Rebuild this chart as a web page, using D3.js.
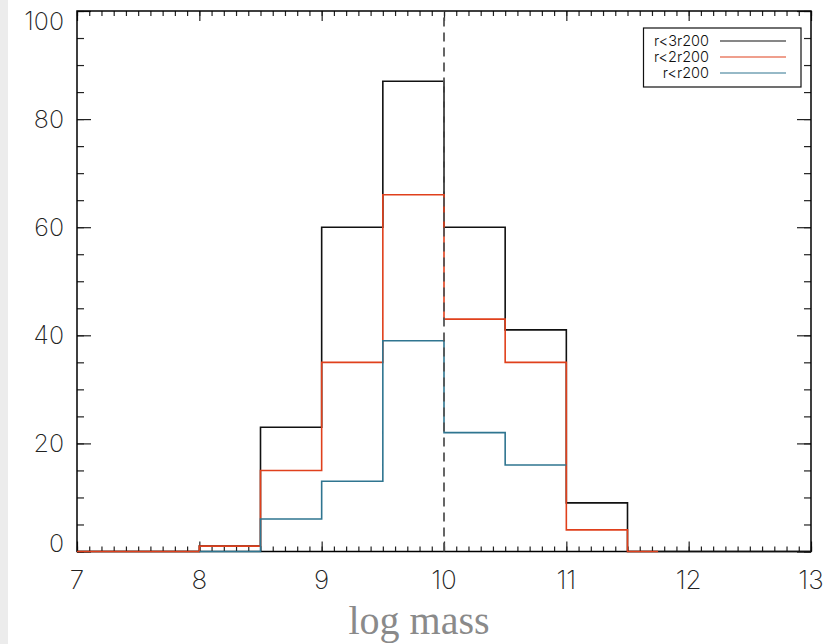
<!DOCTYPE html>
<html><head><meta charset="utf-8">
<script src="https://cdn.jsdelivr.net/npm/d3@7"></script>
<style>
html,body{margin:0;padding:0;background:#fff;}
svg{display:block;}
.tl{font-family:Inter,"DejaVu Sans",sans-serif;font-weight:200;fill:#222;}
.lt{font-family:Inter,"DejaVu Sans",sans-serif;font-weight:300;fill:#111;}
</style></head>
<body>
<script>
// ---- data ----
const binStarts = [7, 7.5, 8, 8.5, 9, 9.5, 10, 10.5, 11, 11.5, 12, 12.5];
const r3Counts  = [0, 0, 1, 23, 60, 87, 60, 41, 9, 0, 0, 0];
const r2Counts  = [0, 0, 1, 15, 35, 66, 43, 35, 4, 0, 0, 0];
const r1Counts  = [0, 0, 0, 6, 13, 39, 22, 16, 0, 0, 0, 0];
const r3Range = [7, 13];
const r2Range = [7, 11.75];
const r1Range = [8, 11];
const seriesNames = ["r<3r200", "r<2r200", "r<r200"];
const seriesColors = ["#111111", "#e0401c", "#2f7590"];
const xTicks = [7, 8, 9, 10, 11, 12, 13];
const yTicks = [0, 20, 40, 60, 80, 100];
const xLabel = "log mass";
const markerX = 10;

const W = 832, H = 644;
const svg = d3.select("body").append("svg").attr("width", W).attr("height", H);
svg.append("rect").attr("width", W).attr("height", H).attr("fill", "#fff");
svg.append("rect").attr("x", 0).attr("y", 0).attr("width", 8).attr("height", H).attr("fill", "#ececec");

const L = 77, R = 811, T = 11, B = 551.5;
const x = d3.scaleLinear().domain([7, 13]).range([L, R]);
const y = d3.scaleLinear().domain([0, 100]).range([B, T]);

const g = svg.append("g");
const minorX = d3.range(7, 13.0001, 0.1).map(v => +v.toFixed(1));
const minorY = d3.range(0, 100.001, 5);

function axisSide(axisFn, scale, vals, size, transform) {
  const a = axisFn(scale).tickValues(vals).tickSizeInner(size).tickSizeOuter(0).tickFormat("");
  const gg = g.append("g").attr("transform", transform).call(a);
  gg.select(".domain").remove();
  gg.selectAll("line").attr("stroke", "#222").attr("stroke-width", 1.2);
}
axisSide(d3.axisBottom, x, minorX, -5, `translate(0,${B})`);
axisSide(d3.axisBottom, x, xTicks, -10, `translate(0,${B})`);
axisSide(d3.axisTop, x, minorX, -5, `translate(0,${T})`);
axisSide(d3.axisTop, x, xTicks, -10, `translate(0,${T})`);
axisSide(d3.axisLeft, y, minorY, -7, `translate(${L},0)`);
axisSide(d3.axisLeft, y, yTicks, -14, `translate(${L},0)`);
axisSide(d3.axisRight, y, minorY, -7, `translate(${R},0)`);
axisSide(d3.axisRight, y, yTicks, -14, `translate(${R},0)`);

g.append("rect").attr("x", L).attr("y", T).attr("width", R - L).attr("height", B - T)
  .attr("fill", "none").attr("stroke", "#000").attr("stroke-width", 1.5);

g.selectAll("text.xt").data(xTicks).join("text").attr("class", "tl")
  .attr("x", d => x(d)).attr("y", 580).attr("dy", "0.35em")
  .attr("text-anchor", "middle").attr("font-size", 26).text(d => d);
g.selectAll("text.yt").data(yTicks).join("text").attr("class", "tl")
  .attr("x", 64).attr("y", d => Math.min(Math.max(y(d), 21), 543)).attr("dy", "0.35em")
  .attr("text-anchor", "end").attr("font-size", 25).text(d => d);

svg.append("text").attr("x", 419).attr("y", 634).attr("text-anchor", "middle")
  .attr("font-family", "'Liberation Serif','DejaVu Serif',serif").attr("font-size", 40)
  .attr("fill", "#8a8a8a").text(xLabel);

// histograms: step lines; each series ends with a horizontal half at its last bin value
function stepPoints(counts, range) {
  const pts = [];
  binStarts.forEach((b, i) => {
    if (b >= range[0] - 1e-9 && b < range[1] - 1e-9) pts.push([b, counts[i]]);
  });
  pts.push([range[1], pts[pts.length - 1][1]]);
  return pts;
}
const line = d3.line().x(d => x(d[0])).y(d => y(d[1])).curve(d3.curveStepAfter);
const seriesList = [[r3Counts, r3Range], [r2Counts, r2Range], [r1Counts, r1Range]];
seriesList.forEach(([c, r], i) => {
  g.append("path").attr("d", line(stepPoints(c, r))).attr("fill", "none")
    .attr("stroke", seriesColors[i]).attr("stroke-width", 1.6);
});

g.append("line").attr("x1", x(markerX)).attr("x2", x(markerX)).attr("y1", y(0)).attr("y2", y(100))
  .attr("stroke", "#555").attr("stroke-width", 1.8).attr("stroke-dasharray", "9,6");

const lg = svg.append("g");
lg.append("rect").attr("x", 643.5).attr("y", 28).attr("width", 157.5).attr("height", 59)
  .attr("fill", "#fff").attr("stroke", "#111").attr("stroke-width", 1.2);
seriesNames.forEach((n, i) => {
  const yy = 41 + i * 16;
  lg.append("text").attr("class", "lt").attr("x", 709).attr("y", yy).attr("dy", "0.35em")
    .attr("text-anchor", "end").attr("font-size", 14.5).text(n);
  lg.append("line").attr("x1", 720).attr("x2", 786).attr("y1", yy).attr("y2", yy)
    .attr("stroke", seriesColors[i]).attr("stroke-width", 1.2);
});
</script>
</body></html>
